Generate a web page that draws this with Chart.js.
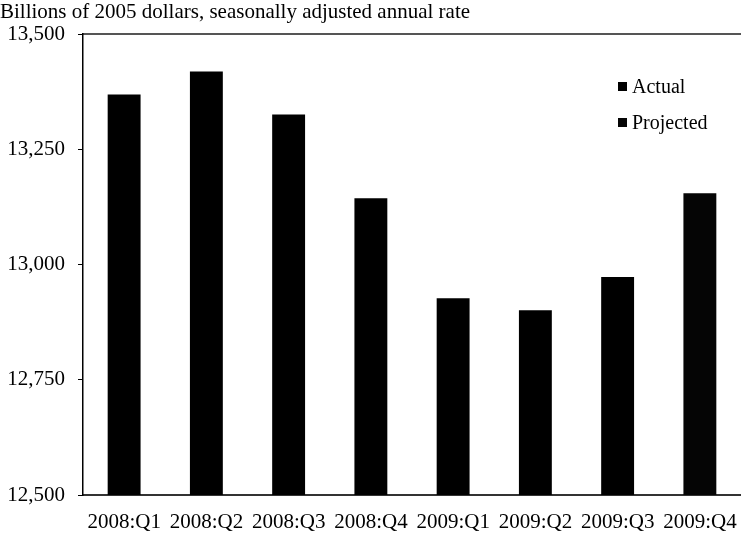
<!DOCTYPE html>
<html>
<head>
<meta charset="utf-8">
<script src="https://cdn.jsdelivr.net/npm/chart.js@4.4.1/dist/chart.umd.min.js"></script>
<style>
  html, body { margin: 0; padding: 0; background: #fff; }
  #wrap { position: relative; width: 741px; height: 538px; }
  #legend { position: absolute; left: 618px; top: 68px; font-family: "Liberation Serif", serif; font-size: 20px; color: #000; }
  #legend div { height: 36px; display: flex; align-items: center; }
  #legend span.box { display: inline-block; width: 9px; height: 9px; margin-right: 5px; }
</style>
</head>
<body>
<div id="wrap">
  <canvas id="myChart" width="741" height="538"></canvas>
  <div id="legend"></div>
</div>
<script>
// quarters and values, billions of 2005 dollars
const quarters = ['2008:Q1', '2008:Q2', '2008:Q3', '2008:Q4', '2009:Q1', '2009:Q2', '2009:Q3', '2009:Q4'];
const actual = [13369, 13419, 13326, 13144, 12927, 12901, 12973, null];
const projected = [null, null, null, null, null, null, null, 13155];
const yTicks = [12500, 12750, 13000, 13250, 13500];

const serif = 'Liberation Serif';

const ctx = document.getElementById('myChart').getContext('2d');
const myChart = new Chart(ctx, {
  type: 'bar',
  data: {
    labels: quarters,
    datasets: [
      { label: 'Actual', data: actual, backgroundColor: '#000', grouped: false },
      { label: 'Projected', data: projected, backgroundColor: '#050505', grouped: false }
    ]
  },
  options: {
    responsive: false,
    animation: false,
    categoryPercentage: 1,
    barPercentage: 0.4,
    layout: { padding: { left: 0, right: 0, top: 0, bottom: 0 } },
    plugins: {
      legend: { display: false },
      tooltip: { enabled: false },
      title: {
        display: true,
        text: 'Billions of 2005 dollars, seasonally adjusted annual rate',
        align: 'start',
        color: '#000',
        font: { family: serif, size: 21, weight: 'normal' },
        padding: { top: 0, bottom: 9 }
      }
    },
    scales: {
      x: {
        // tick marks hidden, tickLength only keeps the labels off the axis
        grid: { display: false, drawTicks: true, tickLength: 15 },
        border: { display: true, color: '#333', width: 2 },
        ticks: { color: '#000', padding: 0, maxRotation: 0, autoSkip: false, font: { family: serif, size: 21 } },
        afterFit: (scale) => { scale.height = 43; }
      },
      xTop: {
        type: 'category',
        position: 'top',
        labels: quarters,
        grid: { display: false, drawTicks: false },
        border: { display: true, color: '#555', width: 2 },
        ticks: { display: false }
      },
      y: {
        min: 12500,
        max: 13500,
        afterBuildTicks: (axis) => { axis.ticks = yTicks.map(v => ({ value: v })); },
        grid: { drawOnChartArea: false, drawTicks: true, tickLength: 5, color: '#000' },
        border: { display: true, color: '#000', width: 1.5 },
        ticks: {
          color: '#000',
          padding: 13,
          font: { family: serif, size: 21 },
          callback: (v) => v.toLocaleString('en-US')
        },
        afterFit: (scale) => { scale.width = 83; }
      }
    }
  }
});

// legend inside the plot, built from the datasets
const legendEl = document.getElementById('legend');
myChart.data.datasets.forEach(ds => {
  const row = document.createElement('div');
  row.innerHTML = `<span class="box" style="background:${ds.backgroundColor}"></span>${ds.label}`;
  legendEl.appendChild(row);
});
</script>
</body>
</html>
